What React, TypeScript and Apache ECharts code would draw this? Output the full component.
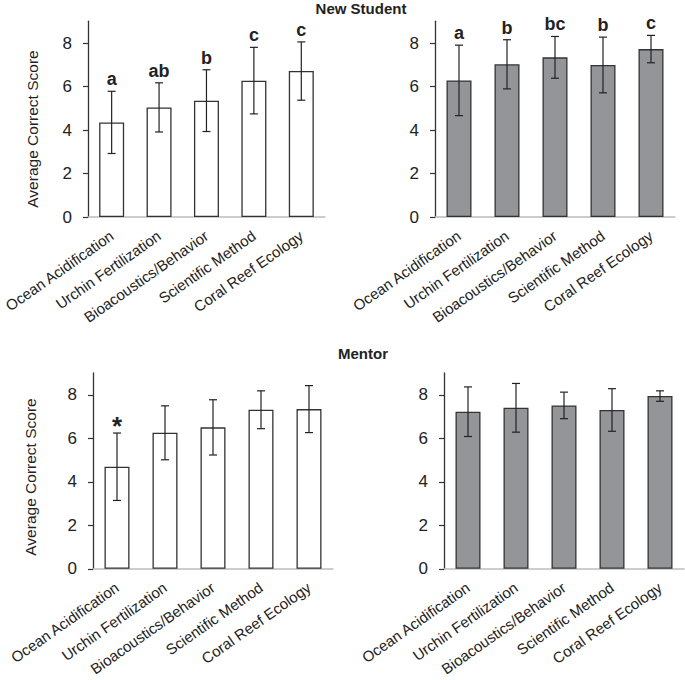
import React, { useEffect, useRef } from "react";
import * as echarts from "echarts";

const categories = [
  "Ocean Acidification",
  "Urchin Fertilization",
  "Bioacoustics/Behavior",
  "Scientific Method",
  "Coral Reef Ecology",
];
const yTicks = [0, 2, 4, 6, 8];

const newStudentPreMeans = [4.35, 5.04, 5.35, 6.27, 6.71];
const newStudentPreErrs = [1.43, 1.13, 1.42, 1.53, 1.34];
const newStudentPreLetters = ["a", "ab", "b", "c", "c"];

const newStudentPostMeans = [6.28, 7.02, 7.34, 6.99, 7.72];
const newStudentPostErrs = [1.62, 1.13, 0.96, 1.28, 0.63];
const newStudentPostLetters = ["a", "b", "bc", "b", "c"];

const mentorPreMeans = [4.69, 6.25, 6.5, 7.31, 7.34];
const mentorPreErrs = [1.55, 1.24, 1.27, 0.87, 1.08];
const mentorPreLetters = ["*", "", "", "", ""];

const mentorPostMeans = [7.22, 7.4, 7.51, 7.3, 7.94];
const mentorPostErrs = [1.14, 1.12, 0.61, 0.98, 0.24];
const mentorPostLetters = ["", "", "", "", ""];

const FONT = "Liberation Sans, Arial, Helvetica, sans-serif";

const panels = [
  { means: newStudentPreMeans, errs: newStudentPreErrs, letters: newStudentPreLetters, fill: "#ffffff", grid: { left: 85, top: 21.25 } },
  { means: newStudentPostMeans, errs: newStudentPostErrs, letters: newStudentPostLetters, fill: "#939598", grid: { left: 435, top: 21.25 } },
  { means: mentorPreMeans, errs: mentorPreErrs, letters: mentorPreLetters, fill: "#ffffff", grid: { left: 93, top: 373 } },
  { means: mentorPostMeans, errs: mentorPostErrs, letters: mentorPostLetters, fill: "#939598", grid: { left: 444, top: 373 } },
];

export default function App() {
  const ref = useRef<HTMLDivElement>(null);
  useEffect(() => {
    document.body.style.margin = "0";
    if (!ref.current) return;
    const chart = echarts.init(ref.current, null, { renderer: "svg" });

    const grids = panels.map((p) => ({ left: p.grid.left, top: p.grid.top, width: 240, height: 195.75 }));
    const xAxes = panels.map((p, i) => ({
      type: "category",
      gridIndex: i,
      data: categories,
      axisLine: { lineStyle: { color: "#bdbdbd", width: 1.5 } },
      axisTick: { show: false },
      axisLabel: { rotate: 35, fontSize: 15, color: "#222", fontFamily: FONT, margin: 17, interval: 0 },
    }));
    const yAxes = panels.map((p, i) => ({
      type: "value",
      gridIndex: i,
      min: 0,
      max: 9,
      interval: 1,
      splitLine: { show: false },
      axisLine: { show: true, lineStyle: { color: "#333", width: 1.3 } },
      axisTick: { show: true, length: 5, lineStyle: { color: "#333", width: 1.2 }, customValues: yTicks },
      axisLabel: { fontSize: 17, color: "#222", fontFamily: FONT, margin: 16, customValues: yTicks },
    }));
    const series: any[] = [];
    panels.forEach((p, i) => {
      series.push({
        type: "bar",
        xAxisIndex: i,
        yAxisIndex: i,
        data: p.means,
        barWidth: 25,
        itemStyle: { color: p.fill, borderColor: "#333", borderWidth: 1.3 },
        z: 2,
      });
      series.push({
        type: "custom",
        xAxisIndex: i,
        yAxisIndex: i,
        data: p.means.map((m, k) => [k, m, p.errs[k]]),
        encode: { x: 0, y: 1 },
        z: 3,
        renderItem: (params: any, api: any) => {
          const k = api.value(0);
          const m = api.value(1);
          const e = api.value(2);
          const top = api.coord([k, m + e]);
          const bot = api.coord([k, m - e]);
          const x = top[0];
          const st = { stroke: "#222", lineWidth: 1.2 };
          const children: any[] = [
            { type: "line", shape: { x1: x, y1: top[1], x2: x, y2: bot[1] }, style: st },
            { type: "line", shape: { x1: x - 4, y1: top[1], x2: x + 4, y2: top[1] }, style: st },
            { type: "line", shape: { x1: x - 4, y1: bot[1], x2: x + 4, y2: bot[1] }, style: st },
          ];
          const lab = p.letters[params.dataIndex];
          if (lab) {
            const isStar = lab === "*";
            children.push({
              type: "text",
              x: x,
              y: top[1] - (isStar ? -6 : 3),
              style: {
                text: lab,
                fontSize: isStar ? 26 : 18,
                fontWeight: "bold",
                fontFamily: FONT,
                fill: "#222",
                align: "center",
                verticalAlign: "bottom",
              },
            });
          }
          return { type: "group", children };
        },
      });
    });

    const option: any = {
      animation: false,
      backgroundColor: "#ffffff",
      grid: grids,
      xAxis: xAxes,
      yAxis: yAxes,
      series,
      graphic: [
        { type: "text", x: 361, y: 8, style: { text: "New Student", fontSize: 15, fontWeight: "bold", fontFamily: FONT, fill: "#222", align: "center", verticalAlign: "middle" } },
        { type: "text", x: 363, y: 353, style: { text: "Mentor", fontSize: 15, fontWeight: "bold", fontFamily: FONT, fill: "#222", align: "center", verticalAlign: "middle" } },
        { type: "text", x: 32, y: 129, rotation: Math.PI / 2, style: { text: "Average Correct Score", fontSize: 15.5, fontFamily: FONT, fill: "#222", align: "center", verticalAlign: "middle" } },
        { type: "text", x: 30, y: 477, rotation: Math.PI / 2, style: { text: "Average Correct Score", fontSize: 15.5, fontFamily: FONT, fill: "#222", align: "center", verticalAlign: "middle" } },
      ],
    };
    chart.setOption(option);
    return () => chart.dispose();
  }, []);
  return <div ref={ref} style={{ width: 685, height: 680 }} />;
}
